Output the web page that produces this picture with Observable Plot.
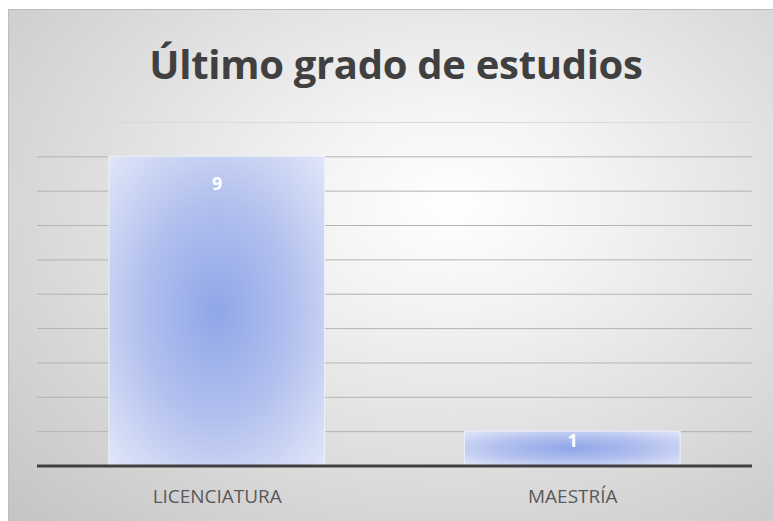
<!DOCTYPE html>
<html>
<head>
<meta charset="utf-8">
<script src="https://cdn.jsdelivr.net/npm/d3@7"></script>
<script src="https://cdn.jsdelivr.net/npm/@observablehq/plot@0.6"></script>
<style>
  html, body { margin: 0; padding: 0; background: #ffffff; }
  #frame {
    position: absolute; left: 8px; top: 9px; width: 765px; height: 512px;
    background: radial-gradient(ellipse farthest-corner at 58% 38%, #ffffff 0%, #f4f4f4 22%, #c4c4c4 100%);
    border-top: 1px solid #bdbdbd; border-left: 1px solid #bdbdbd;
    box-sizing: border-box; overflow: hidden;
  }
  #title {
    height: 90px; display: flex; align-items: flex-end; justify-content: center;
    font-family: "Open Sans", sans-serif; font-weight: 700; font-size: 40px; letter-spacing: -0.3px;
    color: #404040; padding-left: 10px; box-sizing: border-box; line-height: 1; padding-bottom: 16px;
  }
  #chart svg { display: block; overflow: visible; }
</style>
</head>
<body>
<div id="frame">
  <div id="title">Último grado de estudios</div>
  <div id="chart"></div>
</div>
<script>
const categories = ["LICENCIATURA", "MAESTRÍA"];
const values = [9, 1];
const yTicks = [0, 1, 2, 3, 4, 5, 6, 7, 8, 9, 10];

const data = categories.map((c, i) => ({category: c, value: values[i]}));

const plot = Plot.plot({
  width: 765,
  height: 421,
  marginTop: 22,
  marginBottom: 55,
  marginLeft: 28,
  marginRight: 21,
  style: {background: "transparent", fontFamily: "'Open Sans', sans-serif"},
  x: {domain: categories, paddingInner: 0.393, paddingOuter: 0.2, label: null},
  y: {domain: [0, 10], axis: null},
  marks: [
    Plot.ruleY(yTicks.filter(t => t > 0 && t < 10), {stroke: "#b3b3b3", strokeWidth: 1}),
    Plot.ruleY([10], {stroke: "#dadada", strokeWidth: 1}),
    Plot.barY(data, {x: "category", y: "value", fill: "url(#barGrad)", stroke: "#eef1fb", strokeWidth: 1, inset: 0}),
    Plot.ruleY([0], {stroke: "#404040", strokeWidth: 3}),
    Plot.text(data, {x: "category", y: d => d.value >= 2 ? d.value - 0.8 : d.value - 0.27,
      text: d => String(d.value), fill: "#ffffff", fontWeight: "bold", fontSize: 18}),
    Plot.axisX({tickSize: 0, tickPadding: 24, fontSize: 19, label: null})
  ]
});

const defs = document.createElementNS("http://www.w3.org/2000/svg", "defs");
defs.innerHTML = `
  <radialGradient id="barGrad" cx="0.5" cy="0.5" r="0.7">
    <stop offset="0%" stop-color="#90a6e8"/>
    <stop offset="50%" stop-color="#b2c0ee"/>
    <stop offset="100%" stop-color="#e0e6f8"/>
  </radialGradient>`;
plot.insertBefore(defs, plot.firstChild);
plot.querySelectorAll("g[aria-label='x-axis tick label']").forEach(g => g.setAttribute("fill", "#595959"));
document.getElementById("chart").appendChild(plot);
</script>
</body>
</html>
